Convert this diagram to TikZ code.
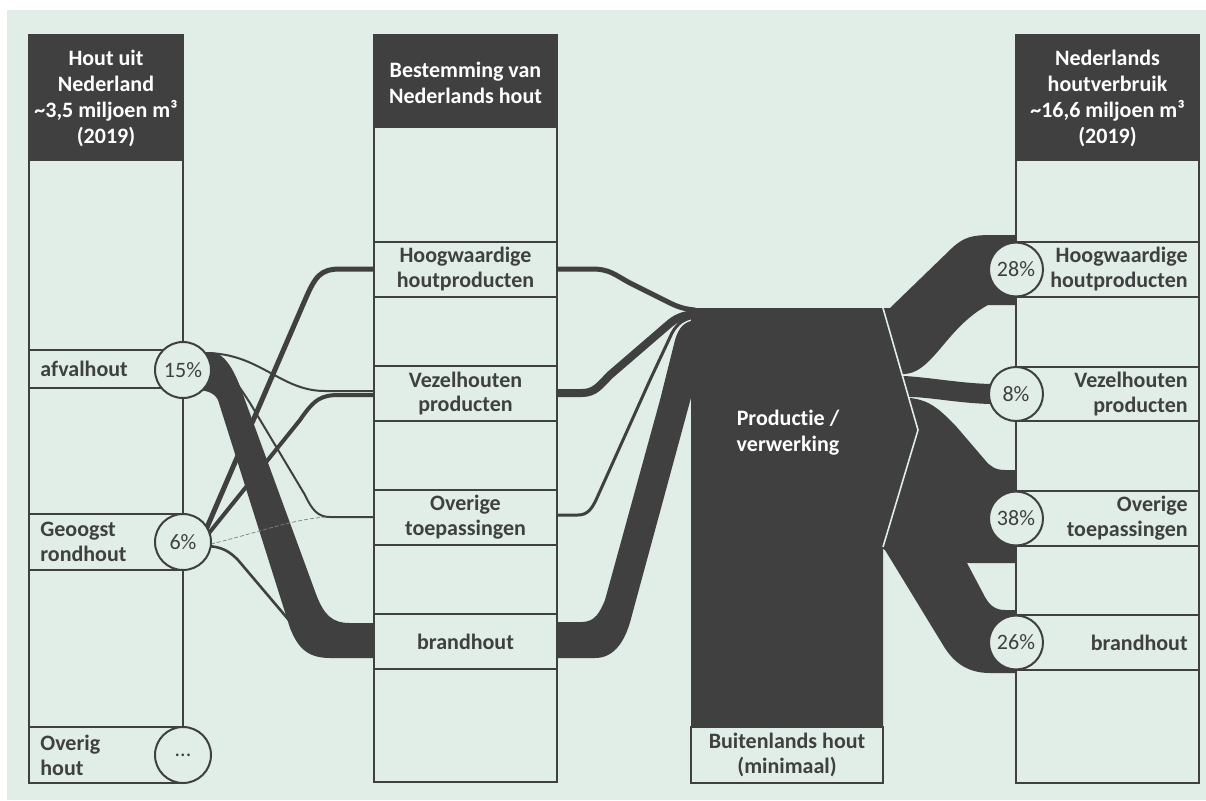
\documentclass[tikz,border=0pt]{standalone}
\usepackage{fontspec}
\setmainfont[Ligatures=NoCommon]{Carlito}
\definecolor{bgc}{HTML}{E0EEE7}
\definecolor{dk}{HTML}{404040}
\begin{document}
\begin{tikzpicture}[x=0.5pt,y=-0.5pt,
  flow/.style={fill=dk},
  fline/.style={draw=dk},
  boxst/.style={draw=dk, fill=bgc, line width=1pt},
  hdrfill/.style={draw=dk, fill=dk, line width=1pt},
  hdrtxt/.style={text=white, font=\bfseries\fontsize{11}{13}\selectfont, align=center, inner sep=0pt},
  pct/.style={circle, draw=dk, fill=bgc, line width=1pt, minimum size=28pt, inner sep=0pt, text=dk, font=\fontsize{11}{13}\selectfont},
  lbl/.style={text=dk, font=\bfseries\fontsize{11}{12.5}\selectfont, inner sep=0pt},
]
\useasboundingbox (0,0) rectangle (1206,800);
\fill[white] (0,0) rectangle (1206,800);
\fill[bgc] (7,10) rectangle (1206,800);

% ---------- flows left -> middle ----------
% 15% -> brandhout (thick band)
\fill[flow] (195,352) -- (210,352) .. controls (228,352) and (238,380) .. (245,400)
  -- (316,594) .. controls (324,615) and (332,623) .. (350,623) -- (378,623)
  -- (378,658) -- (330,658) .. controls (305,658) and (297,645) .. (290,628)
  -- (218,400) .. controls (214,392) and (205,390) .. (195,390) -- cycle;
% 15% -> Vezelhouten
\draw[fline, line width=1pt] (205,353) .. controls (260,353) and (280,391) .. (325,391) -- (378,391);
% 15% -> Overige
\draw[fline, line width=1pt] (205,360) .. controls (225,365) and (235,380) .. (250,403)
  -- (305,495) .. controls (312,510) and (318,517) .. (330,517) -- (378,517);
% 6% -> Hoogwaardige
\draw[fline, line width=2.5pt] (205,532) -- (305,300) .. controls (315,277) and (320,269) .. (340,269) -- (378,269);
% 6% -> Vezelhouten
\draw[fline, line width=2pt] (205,538) -- (300,420) .. controls (315,398) and (322,395) .. (340,395) -- (378,395);
% 6% -> Overige (minimal)
\draw[gray, line width=0.35pt, dash pattern=on 2pt off 1pt] (211,544) .. controls (260,532) and (290,520) .. (325,517);
% 6% -> brandhout
\draw[fline, line width=1.3pt] (205,546) .. controls (222,546) and (230,552) .. (238,560) -- (310,645) -- (330,655);

% ---------- flows middle -> centre ----------
\draw[fline, line width=2.5pt] (555,269) -- (592,269) .. controls (610,269) and (615,275) .. (630,283)
  -- (668,302) .. controls (678,307) and (684,309) .. (695,310);
\draw[fline, line width=4pt] (555,393) -- (582,393) .. controls (595,393) and (600,385) .. (610,375)
  -- (668,325) .. controls (676,318) and (683,315) .. (695,314);
\draw[fline, line width=1.5pt] (555,515) -- (578,515) .. controls (588,515) and (592,508) .. (596,500)
  -- (650,380) -- (672,333) .. controls (677,324) and (683,319) .. (695,317);
\fill[flow] (555,622) -- (582,622) .. controls (595,622) and (600,612) .. (605,600)
  -- (660,400) -- (675,340) .. controls (679,327) and (684,322) .. (695,320)
  -- (695,383) -- (632,615) .. controls (626,640) and (615,658) .. (595,658) -- (555,658) -- cycle;

% ---------- flows centre -> right ----------
\fill[flow] (880,308) -- (890,308) -- (952,248) .. controls (964,237) and (972,235) .. (992,235)
  -- (1018,235) -- (1018,305) -- (988,305) .. controls (960,320) and (945,345) .. (930,360)
  .. controls (922,368) and (915,373) .. (905,374) -- (880,374) -- cycle;
\fill[flow] (880,376) -- (905,376) .. controls (935,378) and (965,384) .. (995,384) -- (1018,384)
  -- (1018,404) -- (995,404) .. controls (965,404) and (935,398) .. (913,397) -- (880,397) -- cycle;
\fill[flow] (880,398) -- (910,398) .. controls (930,400) and (940,410) .. (955,425)
  -- (985,460) .. controls (990,466) and (995,470) .. (1005,470) -- (1018,470)
  -- (1018,563) -- (970,563) .. controls (950,563) and (935,550) .. (925,530) -- (895,480) -- (880,480) -- cycle;
\fill[flow] (880,440) -- (905,440) -- (967,563) -- (985,597) .. controls (990,606) and (996,610) .. (1005,610)
  -- (1018,610) -- (1018,673) -- (990,673) .. controls (965,673) and (952,660) .. (943,645)
  -- (885,550) -- (880,547) -- cycle;

% ---------- columns ----------
\draw[boxst] (29,35) rectangle (183,783);
\draw[boxst] (374,35) rectangle (557,782);
\draw[boxst] (1016,35) rectangle (1199,783);
\draw[hdrfill] (29,35) rectangle (183,160);
\draw[hdrfill] (374,35) rectangle (557,127);
\draw[hdrfill] (1016,35) rectangle (1199,160);
\node[hdrtxt] (lhead) at (106,98) {Hout uit\\Nederland\\\textasciitilde3,5 miljoen m³\\(2019)};
\node[hdrtxt] (mhead) at (465.5,83) {Bestemming van\\Nederlands hout};
\node[hdrtxt] (rhead) at (1107.5,98) {Nederlands\\houtverbruik\\\textasciitilde16,6 miljoen m³\\(2019)};

% left rows
\draw[boxst] (29,350) rectangle (183,388);
\draw[boxst] (29,514) rectangle (183,570);
\draw[boxst] (29,727) rectangle (183,783);
\node[lbl, anchor=west] (lafv) at (40,369) {afvalhout};
\node[lbl, anchor=west, align=left] (lgeo) at (40,542) {Geoogst\\rondhout};
\node[lbl, anchor=west, align=left] (love) at (40,755) {Overig\\hout};

% middle rows
\draw[boxst] (374,242) rectangle (557,297);
\draw[boxst] (374,366) rectangle (557,421);
\draw[boxst] (374,490) rectangle (557,545);
\draw[boxst] (374,614) rectangle (557,669);
\node[lbl, align=center] (mhoog) at (465.5,269.5) {Hoogwaardige\\houtproducten};
\node[lbl, align=center] (mvez) at (465.5,393.5) {Vezelhouten\\producten};
\node[lbl, align=center] (move) at (465.5,517.5) {Overige\\toepassingen};
\node[lbl, align=center] (mbrand) at (465.5,641.5) {brandhout};

% right rows
\draw[boxst] (1016,242) rectangle (1199,297);
\draw[boxst] (1016,367) rectangle (1199,421);
\draw[boxst] (1016,491) rectangle (1199,546);
\draw[boxst] (1016,615) rectangle (1199,670);
\node[lbl, anchor=east, align=right] (rhoog) at (1188,269.5) {Hoogwaardige\\houtproducten};
\node[lbl, anchor=east, align=right] (rvez) at (1188,394) {Vezelhouten\\producten};
\node[lbl, anchor=east, align=right] (rove) at (1188,518.5) {Overige\\toepassingen};
\node[lbl, anchor=east, align=right] (rbrand) at (1188,642.5) {brandhout};

% ---------- centre block ----------
\fill[dk] (691,308) -- (883,308) -- (918,430) -- (883,547) -- (883,727) -- (691,727) -- cycle;
\draw[bgc, line width=0.8pt] (883,308) -- (918,430) -- (883,547);
\draw[boxst] (691,727) rectangle (883,783);
\node[hdrtxt] (prod) at (788,433) {Productie /\\verwerking};
\node[lbl, align=center] (buit) at (787,755) {Buitenlands hout\\(minimaal)};

% ---------- percentage circles ----------
\node[pct] (c15) at (183,370) {15\%};
\node[pct] (c6) at (183,542) {6\%};
\node[pct] (cov) at (183,755) {...};
\node[pct, minimum size=27pt] (c28) at (1016,269.5) {28\%};
\node[pct, minimum size=27pt] (c8) at (1016,394) {8\%};
\node[pct, minimum size=27pt] (c38) at (1016,518.5) {38\%};
\node[pct, minimum size=27pt] (c26) at (1016,642.5) {26\%};
\end{tikzpicture}
\end{document}
